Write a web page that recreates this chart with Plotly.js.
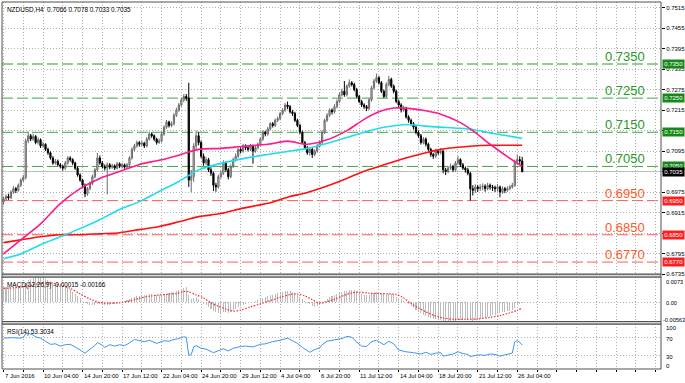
<!DOCTYPE html>
<html><head><meta charset="utf-8">
<script src="https://cdn.plot.ly/plotly-3.0.1.min.js"></script>
<style>html,body{margin:0;padding:0;background:#fff}#chart{width:685px;height:383px}</style>
</head><body><div id="chart"></div>
<script>
// NZDUSD H4 candles, prices in pips (price x 10000), bar index 0..210
const opens = [6945,6955,6962,6958,6975,6985,6980,6995,7010,7018,
7125,7140,7130,7138,7120,7128,7110,7115,7100,7090,
7075,7060,7065,7055,7050,7045,7060,7075,7070,7060,
7045,7025,7010,6995,6970,6985,7000,7020,7040,7075,
7060,7050,7045,7055,7048,7052,7045,7058,7050,7055,
7048,7055,7075,7100,7110,7120,7115,7118,7110,7130,
7145,7140,7130,7120,7125,7145,7165,7180,7170,7175,
7200,7215,7230,7245,7255,7250,7010,7020,7110,7140,
7120,7080,7060,7070,7040,7030,6995,6990,7020,7030,
7060,7040,7020,7050,7070,7080,7100,7095,7110,7105,
7100,7110,7095,7105,7115,7130,7150,7145,7160,7175,
7170,7185,7190,7205,7215,7230,7225,7210,7205,7185,
7170,7150,7120,7105,7090,7100,7085,7095,7110,7120,
7150,7185,7200,7215,7210,7225,7240,7260,7270,7260,
7285,7295,7290,7275,7255,7240,7230,7225,7220,7245,
7280,7300,7310,7295,7270,7255,7290,7305,7285,7270,
7240,7230,7215,7220,7195,7185,7175,7165,7150,7140,
7120,7130,7115,7100,7085,7080,7095,7090,7095,7040,
7035,7045,7050,7040,7060,7070,7055,7045,7040,7030,
6985,6980,6990,6985,6990,6992,6985,6995,6990,6988,
6985,6990,6975,6985,6980,6985,6990,6995,7065,7070,
7066];
const highs = [6962,6968,6970,6980,6992,6990,7000,7015,7025,7132,
7152,7145,7146,7142,7135,7132,7122,7118,7105,7094,
7080,7072,7070,7060,7055,7066,7080,7080,7074,7064,
7050,7030,7014,7000,6990,7006,7026,7046,7090,7082,
7066,7056,7062,7060,7058,7056,7064,7062,7060,7058,
7060,7080,7106,7116,7126,7124,7125,7122,7136,7152,
7150,7144,7134,7132,7150,7170,7186,7184,7182,7206,
7222,7236,7252,7262,7262,7295,7040,7118,7155,7150,
7126,7088,7078,7075,7048,7035,7002,7026,7038,7068,
7065,7046,7056,7076,7088,7106,7106,7116,7115,7110,
7116,7114,7110,7120,7136,7156,7155,7166,7180,7180,
7190,7196,7210,7220,7236,7240,7230,7215,7210,7190,
7175,7155,7125,7110,7106,7105,7100,7116,7126,7156,
7190,7206,7220,7220,7232,7246,7266,7278,7300,7290,
7305,7300,7295,7280,7260,7245,7235,7230,7250,7286,
7306,7322,7315,7300,7275,7296,7315,7310,7290,7275,
7246,7235,7228,7225,7200,7190,7180,7170,7156,7145,
7136,7135,7120,7105,7090,7102,7100,7104,7098,7046,
7052,7058,7055,7066,7080,7074,7060,7050,7046,7034,
6995,6998,6996,6998,7000,6998,7002,7000,6996,6994,
6998,6994,6992,6990,6992,6996,7002,7070,7085,7080,
7078];
const lows = [6938,6950,6952,6955,6970,6972,6976,6990,7005,7012,
7118,7124,7125,7115,7114,7104,7105,7095,7084,7070,
7055,7055,7050,7044,7038,7040,7055,7064,7054,7040,
7020,7005,6988,6960,6964,6980,6995,7015,7035,7055,
7044,7038,6968,7042,7043,7040,7041,7045,7044,7043,
7044,7050,7070,7095,7105,7108,7110,7104,7106,7126,
7134,7124,7114,7116,7120,7140,7160,7164,7165,7170,
7195,7210,7225,7238,7242,6990,6975,7005,7100,7112,
7074,7052,7054,7034,7022,6978,6976,6985,7014,7025,
7034,7012,7015,7045,7064,7075,7088,7090,7098,7094,
7095,7058,7090,7100,7110,7125,7138,7140,7155,7164,
7166,7180,7185,7200,7210,7218,7205,7198,7180,7165,
7145,7115,7098,7084,7082,7075,7080,7090,7105,7115,
7145,7180,7195,7202,7205,7220,7235,7255,7254,7255,
7280,7284,7270,7250,7235,7224,7218,7212,7215,7240,
7275,7295,7290,7265,7250,7250,7285,7280,7264,7235,
7224,7208,7210,7190,7178,7170,7158,7144,7134,7114,
7115,7108,7094,7078,7072,7075,7084,7085,7030,7025,
7030,7040,7034,7035,7055,7048,7040,7032,7024,6950,
6965,6972,6975,6978,6980,6976,6980,6982,6978,6975,
6978,6960,6970,6972,6976,6980,6985,6990,7055,7055,
7033];
const closes = [6955,6962,6958,6975,6985,6980,6995,7010,7018,7125,
7140,7130,7138,7120,7128,7110,7115,7100,7090,7075,
7060,7065,7055,7050,7045,7060,7075,7070,7060,7045,
7025,7010,6995,6970,6985,7000,7020,7040,7075,7060,
7050,7045,7055,7048,7052,7045,7058,7050,7055,7048,
7055,7075,7100,7110,7120,7115,7118,7110,7130,7145,
7140,7130,7120,7125,7145,7165,7180,7170,7175,7200,
7215,7230,7245,7255,7250,7010,7020,7110,7140,7120,
7080,7060,7070,7040,7030,6995,6990,7020,7030,7060,
7040,7020,7050,7070,7080,7100,7095,7110,7105,7100,
7110,7095,7105,7115,7130,7150,7145,7160,7175,7170,
7185,7190,7205,7215,7230,7225,7210,7205,7185,7170,
7150,7120,7105,7090,7100,7085,7095,7110,7120,7150,
7185,7200,7215,7210,7225,7240,7260,7270,7260,7285,
7295,7290,7275,7255,7240,7230,7225,7220,7245,7280,
7300,7310,7295,7270,7255,7290,7305,7285,7270,7240,
7230,7215,7220,7195,7185,7175,7165,7150,7140,7120,
7130,7115,7100,7085,7080,7095,7090,7095,7040,7035,
7045,7050,7040,7060,7070,7055,7045,7040,7030,6985,
6980,6990,6985,6990,6992,6985,6995,6990,6988,6985,
6990,6975,6985,6980,6985,6990,6995,7065,7070,7066,
7035];

const timeLabels = ['7 Jun 2016','10 Jun 04:00','14 Jun 20:00','17 Jun 12:00','22 Jun 04:00','24 Jun 20:00','29 Jun 12:00','4 Jul 04:00','6 Jul 20:00','11 Jul 12:00','14 Jul 04:00','18 Jul 20:00','21 Jul 12:00','26 Jul 04:00'];
const priceTicks = [0.7515,0.7455,0.7395,0.7335,0.7275,0.7215,0.7155,0.7095,0.7035,0.6975,0.6915,0.6855,0.6795,0.6735];
const resistance = [0.7350,0.7250,0.7150,0.7050];
const support = [0.6950,0.6850,0.6770];

// moving averages (pips), sampled at bar indices
const maIdx = [0,7,15,23,31,39,47,55,63,71,79,88,97,107,115,123,131,139,146,152,158,164,171,177,184,190,197,204,210];
const maPink = [6794,6835,6882,6941,6985,7015,7035,7056,7068,7083,7100,7103,7109,7115,7124,7115,7128,7155,7188,7210,7221,7220,7213,7203,7182,7155,7115,7079,7050];
const maCyan = [6780,6794,6821,6844,6868,6894,6924,6947,6977,7006,7040,7059,7073,7085,7094,7103,7118,7135,7150,7162,7169,7173,7168,7165,7162,7158,7148,7140,7132];
const maRed = [6827,6835,6844,6850,6850,6853,6856,6865,6874,6888,6903,6912,6928,6942,6960,6974,6993,7015,7036,7050,7064,7077,7090,7100,7106,7110,7112,7112,7112];

// MACD main (histogram), units of 0.001, one per bar
const macdMain = [4.5,4.4,4.4,4.3,4.3,4.4,4.4,4.5,4.6,5.6,
6.5,6.8,7.1,7.2,7.3,7.2,7.0,6.7,6.4,6.0,
5.6,5.3,5.0,4.8,4.6,4.5,4.3,3.9,3.0,2.4,
1.8,1.1,0.4,-0.3,-0.6,-0.8,-0.8,-0.9,-0.4,-0.5,
-0.6,-0.7,-0.7,-0.7,-0.6,-0.5,-0.3,-0.2,0.0,0.2,
0.5,0.8,1.2,1.5,1.7,1.8,1.9,2.0,2.1,2.3,
2.3,2.2,2.1,2.1,2.2,2.4,2.5,2.6,2.8,3.0,
3.3,3.6,3.9,4.2,4.4,2.2,1.0,1.2,1.5,1.0,
0.2,-0.4,-0.8,-1.4,-1.9,-2.5,-2.9,-3.1,-3.1,-3.0,
-3.0,-3.1,-2.8,-2.4,-2.0,-1.5,-1.2,-0.8,-0.5,-0.3,
0.0,0.1,0.3,0.6,0.9,1.3,1.5,1.8,2.0,2.1,
2.4,2.6,2.8,3.0,3.2,3.3,3.1,2.8,2.5,2.0,
1.5,1.0,0.4,-0.2,-0.6,-1.0,-1.3,-1.2,-0.9,-0.3,
0.4,1.0,1.5,1.8,2.1,2.4,2.7,3.0,3.1,3.3,
3.5,3.5,3.4,3.1,2.8,2.5,2.2,2.0,2.1,2.4,
2.7,2.9,2.8,2.5,2.3,2.4,2.5,2.3,2.0,1.6,
1.2,0.8,0.4,0.0,-0.6,-1.2,-1.8,-2.3,-2.8,-3.3,
-3.7,-4.1,-4.4,-4.6,-4.8,-5.0,-5.1,-5.2,-5.5,-5.6,
-5.6,-5.5,-5.5,-5.4,-5.2,-5.1,-5.0,-4.9,-4.9,-5.3,
-5.4,-5.2,-5.0,-4.8,-4.7,-4.5,-4.3,-4.0,-3.8,-3.6,
-3.4,-3.2,-3.0,-2.85,-2.7,-2.55,-2.4,-1.6,-0.9,-0.5,
-0.15];
// MACD signal, units of 0.001, sampled
const sigIdx = [0,7,12,16,19,23,27,31,35,39,43,47,51,55,59,63,67,70,73,75,78,81,84,87,90,93,96,100,104,108,112,116,119,122,125,128,131,134,138,141,144,148,152,156,159,162,165,168,171,174,178,182,187,192,197,201,205,208,210];
const macdSignal = [4.0,4.3,5.0,5.5,5.6,5.0,4.0,2.4,0.9,-0.1,-0.3,-0.2,0.3,1.1,1.7,2.1,2.3,2.5,3.1,3.0,2.1,1.2,-0.2,-1.2,-2.0,-2.6,-2.3,-1.4,-0.5,0.4,1.4,2.2,2.4,1.8,0.7,-0.3,0.1,0.8,2.0,2.7,2.9,2.6,2.5,2.4,2.2,1.2,-0.4,-1.7,-2.8,-3.8,-4.6,-5.0,-5.0,-4.9,-4.4,-3.9,-3.1,-2.4,-1.66];

// RSI(14), sampled
const rsiIdx = [0,2,4,6,8,9,10,12,13,15,17,19,21,23,25,27,29,31,33,35,37,38,40,41,43,45,47,49,51,53,55,57,59,61,62,65,67,69,71,73,74,75,76,77,78,80,82,85,87,89,91,93,96,98,101,104,106,109,112,115,117,119,121,123,124,126,128,129,131,134,137,139,141,143,145,147,149,151,153,154,156,158,160,163,166,169,171,173,175,177,178,180,182,184,186,188,189,191,193,195,197,199,201,203,205,206,207,208,209,210];
const rsiVals = [69,70,70,69,70,79,80,76,72,69,62,55,56,51,54,55,49,41,35,44,52,59,53,48,54,51,54,52,58,66,63,61,64,59,57,63,62,66,68,72,71,30,32,49,52,46,44,36,41,45,40,46,50,51,49,55,56,61,64,69,63,57,48,40,37,43,47,54,62,65,68,73,71,60,51,50,61,64,57,54,62,56,42,38,36,33,37,32,35,36,28,31,33,38,34,32,27,30,31,30,33,32,28,31,33,35,61,63,60,53.3034];

// ---------------- layout helpers ----------------
const H = 383, T = 2, B = 14;
const plotH = H - T - B;
const py = p => (H - B - p) / plotH;
const pip = v => v / 10000;
const macdU = v => v / 1000;
const idx = closes.map((_, i) => i);
const last = closes.length - 1;
const FONT = 'Liberation Sans, Arial, sans-serif';
const GRID = '#b0b0b0';
const DOT = '1px,2px';
const SMALL = 6;

const traces = [
  {type:'candlestick', x: idx, open: opens.map(pip), high: highs.map(pip), low: lows.map(pip), close: closes.map(pip),
   xaxis:'x', yaxis:'y', whiskerwidth:0, hoverinfo:'skip',
   increasing:{line:{color:'#6a6a6a', width:1}, fillcolor:'#d0d0d0'},
   decreasing:{line:{color:'#000000', width:1}, fillcolor:'#000000'}},
  {type:'scatter', mode:'lines', x: maIdx, y: maRed.map(pip), line:{color:'#ff1010', width:1.6, shape:'spline', smoothing:0.8}, xaxis:'x', yaxis:'y', hoverinfo:'skip'},
  {type:'scatter', mode:'lines', x: maIdx, y: maCyan.map(pip), line:{color:'#1fdcf0', width:1.6, shape:'spline', smoothing:0.8}, xaxis:'x', yaxis:'y', hoverinfo:'skip'},
  {type:'scatter', mode:'lines', x: maIdx, y: maPink.map(pip), line:{color:'#ff1a8c', width:1.6, shape:'spline', smoothing:0.8}, xaxis:'x', yaxis:'y', hoverinfo:'skip'},
  {type:'bar', x: idx, y: macdMain.map(macdU), width:0.42, marker:{color:'#bcbcbc', line:{width:0}}, xaxis:'x', yaxis:'y2', hoverinfo:'skip'},
  {type:'scatter', mode:'lines', x: sigIdx, y: macdSignal.map(macdU), line:{color:'#ff2a2a', width:1.2, dash:'1.5px,1.5px', shape:'spline', smoothing:0.8}, xaxis:'x', yaxis:'y2', hoverinfo:'skip'},
  {type:'scatter', mode:'lines', x: rsiIdx, y: rsiVals, line:{color:'#3c96f5', width:1}, xaxis:'x', yaxis:'y3', hoverinfo:'skip'}
];

const shapes = [];
const annotations = [];
const fmt = v => v.toFixed(4);

// x ticks: gridline every 8 bars, label every 16 bars (labels as left-aligned annotations)
const tickvals = [];
for (let k = 0; k * 8 <= 266; k++) tickvals.push(k * 8);
timeLabels.forEach((t, k) => annotations.push({xref:'x', x:k * 16, xanchor:'left', xshift:-1, yref:'paper', y:0, yanchor:'top', yshift:-2,
  showarrow:false, text:t, font:{family:FONT, size:SMALL, color:'#000'}}));

const boxed = resistance.concat(support, [pip(closes[last])]);
const priceText = priceTicks.map(v => boxed.some(b => Math.abs(b - v) < 0.001) ? '' : fmt(v));

resistance.forEach((lv, k) => {
  shapes.push({type:'line', xref:'paper', x0:0, x1:1, yref:'y', y0:lv, y1:lv, layer:'between',
    line:{color: k === 0 ? '#92cf92' : '#3faa3f', width: k === 0 ? 2 : 1, dash:'11px,4px'}});
  annotations.push({xref:'paper', x:0.912, xanchor:'left', yref:'y', y:lv, yanchor:'middle', yshift:7.5, showarrow:false,
    text: fmt(lv), font:{family:FONT, size:13, color:'#269a26'}});
  annotations.push({xref:'paper', x:1, xanchor:'left', xshift:1, yref:'y', y:lv, yanchor:'middle', showarrow:false,
    text: fmt(lv), bgcolor:'#168a16', borderpad:1.2, font:{family:FONT, size:SMALL, color:'#ffffff'}});
});
support.forEach(lv => {
  shapes.push({type:'line', xref:'paper', x0:0, x1:1, yref:'y', y0:lv, y1:lv, layer:'between',
    line:{color:'#ff5a5a', width:1, dash:'11px,4px'}});
  annotations.push({xref:'paper', x:0.912, xanchor:'left', yref:'y', y:lv, yanchor:'middle', yshift:7.5, showarrow:false,
    text: fmt(lv), font:{family:FONT, size:13, color:'#ff5a26'}});
  annotations.push({xref:'paper', x:1, xanchor:'left', xshift:1, yref:'y', y:lv, yanchor:'middle', showarrow:false,
    text: fmt(lv), bgcolor:'#ff1e1e', borderpad:1.2, font:{family:FONT, size:SMALL, color:'#ffffff'}});
});
// current price
const lastPrice = pip(closes[last]);
shapes.push({type:'line', xref:'paper', x0:0, x1:1, yref:'y', y0:lastPrice, y1:lastPrice, layer:'between', line:{color:'#c4c4c4', width:1}});
annotations.push({xref:'paper', x:1, xanchor:'left', xshift:1, yref:'y', y:lastPrice, yanchor:'middle', showarrow:false,
  text: fmt(lastPrice), bgcolor:'#000000', borderpad:1.2, font:{family:FONT, size:SMALL, color:'#ffffff'}});

// panel frames and separators
const panels = [[274.2, 2], [321.5, 277], [369, 324]];
panels.forEach(([b, t]) => shapes.push({type:'rect', xref:'paper', yref:'paper', x0:0, x1:1, y0:py(b), y1:py(t), line:{color:'#505050', width:1}, layer:'above'}));
[[274.2, 277], [321.5, 324]].forEach(([a, b]) => shapes.push({type:'rect', xref:'paper', yref:'paper', x0:0, x1:1, y0:py(b), y1:py(a), fillcolor:'#d6d6d6', line:{color:'#505050', width:1}, layer:'above'}));

// header texts
const hdr = 'NZDUSD,H4  ' + [opens[last], highs[last], lows[last], closes[last]].map(v => fmt(pip(v))).join(' ');
annotations.push({xref:'paper', yref:'paper', x:0, xshift:3, y:1, yshift:-2, xanchor:'left', yanchor:'top', showarrow:false, text:hdr, font:{family:FONT, size:6.4, color:'#000'}});
const macdHdr = 'MACD(12,26,9) ' + (macdMain[last] / 1000).toFixed(5) + ' ' + (macdSignal[macdSignal.length - 1] / 1000).toFixed(5);
annotations.push({xref:'paper', yref:'paper', x:0, xshift:3, y:py(277), yshift:-2, xanchor:'left', yanchor:'top', showarrow:false, text:macdHdr, font:{family:FONT, size:6.4, color:'#000'}});
annotations.push({xref:'paper', yref:'paper', x:0, xshift:3, y:py(324), yshift:-2, xanchor:'left', yanchor:'top', showarrow:false, text:'RSI(14) ' + rsiVals[rsiVals.length - 1].toFixed(4), font:{family:FONT, size:6.4, color:'#000'}});

// right labels of indicator panels
const macdMax = 0.0073, macdMin = -0.00563;
[[macdMax, '0.0073', -4.5, 3], [0, '0.00', -1, 3], [macdMin, '-0.00563', 2, 0]].forEach(([v, t, s, xs]) =>
  annotations.push({xref:'paper', x:1, xanchor:'left', xshift:xs, yref:'y2', y:v, yanchor:'middle', yshift:s, showarrow:false, text:t, font:{family:FONT, size:5.6, color:'#000'}}));
[[100, '100', -3.5], [70, '70', -1.3], [30, '30', -1.7], [0, '0', 2.5]].forEach(([v, t, s]) =>
  annotations.push({xref:'paper', x:1, xanchor:'left', xshift:3, yref:'y3', y:v, yanchor:'middle', yshift:s, showarrow:false, text:t, font:{family:FONT, size:SMALL, color:'#000'}}));

const layout = {
  width:685, height:383, margin:{l:2, r:24, t:T, b:B}, showlegend:false,
  paper_bgcolor:'#ffffff', plot_bgcolor:'#ffffff', font:{family:FONT, size:SMALL, color:'#000'},
  xaxis:{domain:[0,1], range:[-0.61, 266.2], anchor:'y3', tickmode:'array', tickvals, showticklabels:false,
    showgrid:true, gridcolor:GRID, griddash:DOT, gridwidth:1, zeroline:false, showline:false,
    ticks:'outside', ticklen:2, tickcolor:'#000', rangeslider:{visible:false}, fixedrange:true},
  yaxis:{domain:[py(274.2), 1], range:[0.67345, 0.75315], side:'right', tickmode:'array', tickvals:priceTicks,
    ticktext: priceText, showgrid:true, gridcolor:GRID, griddash:DOT, zeroline:false,
    ticks:'outside', ticklen:3, tickcolor:'#000', tickfont:{family:FONT, size:SMALL, color:'#000'}, fixedrange:true},
  yaxis2:{domain:[py(321.5), py(277)], range:[macdMin, macdMax], side:'right', tickmode:'array', tickvals:[0],
    showticklabels:false, showgrid:true, gridcolor:GRID, griddash:DOT, zeroline:false, ticks:'', fixedrange:true},
  yaxis3:{domain:[0, py(324)], range:[-1, 101], side:'right', tickmode:'array', tickvals:[30, 70],
    showticklabels:false, showgrid:true, gridcolor:GRID, griddash:DOT, zeroline:false, ticks:'', fixedrange:true},
  bargap:0, shapes, annotations
};

Plotly.newPlot('chart', traces, layout, {staticPlot:true, displayModeBar:false});
</script>
</body></html>
